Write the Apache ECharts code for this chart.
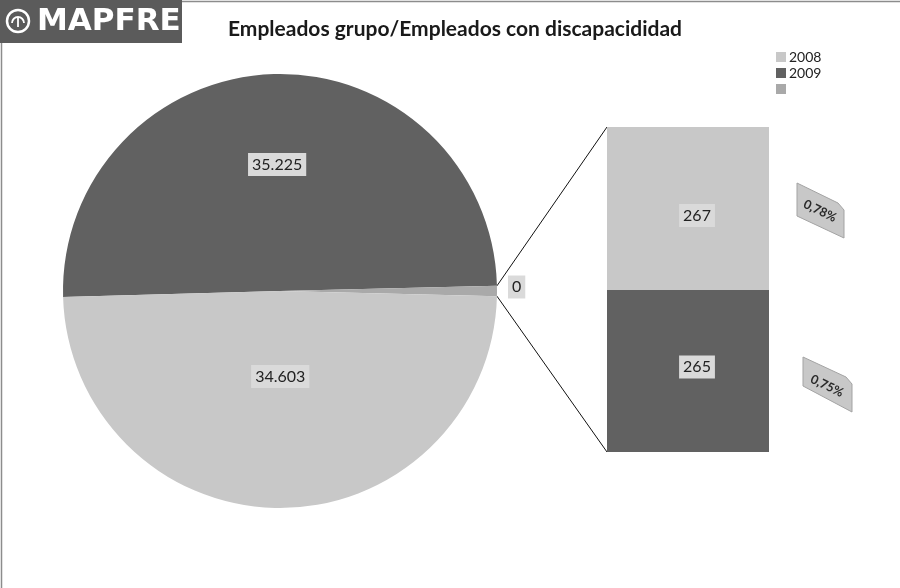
<!DOCTYPE html>
<html>
<head>
<meta charset="utf-8">
<script src="https://cdn.jsdelivr.net/npm/echarts@6/dist/echarts.min.js"></script>
<style>
  html, body { margin: 0; padding: 0; background: #fff; }
  #chart { width: 900px; height: 588px; }
</style>
</head>
<body>
<div id="chart"></div>
<script>
// chart data
const pieNames = [ '2009', ' ', '2008' ]
const mainValues = [ 35225, 34603 ]          // 2009, 2008
const barNames = [ '2008', '2009' ]
const barValues = [ 267, 265 ]               // top, bottom of the stacked bar
const barShares = [ '0,78%', '0,75%' ]
const otherLabel = '0'

const colors = {
  light : '#c8c8c8',
  dark : '#616161',
  other : '#a9a9a9',
  box : '#dadada'
}

const otherValue = barValues[0] + barValues[1]
const total = mainValues[0] + mainValues[1] + otherValue
// start so the small slice sits centred at 3 o'clock
const startAngle = ( mainValues[0] + otherValue / 2 ) / total * 360

const pieCenter = [ 280, 291 ]
const pieRadius = 217
const barGrid = { left : 607, top : 127, width : 162, height : 325 }

const boxLabel = {
  color : '#222',
  fontFamily : 'Lato',
  fontSize : 16,
  backgroundColor : colors.box,
  padding : [ 4, 4, 3, 4 ]
}

const chart = echarts.init( document.getElementById( 'chart' ) )

const calloutShape = ( pts, textPos, text ) => {
  return {
    type : 'group',
    children : [
      {
        type : 'polygon',
        shape : { points : pts },
        style : { fill : colors.light, stroke : '#a3a3a3', lineWidth : 1 }
      },
      {
        type : 'text',
        x : textPos[0],
        y : textPos[1],
        rotation : -0.45,
        style : {
          text : text,
          fill : '#2a2a2a',
          font : 'bold 12.5px Lato',
          align : 'center',
          verticalAlign : 'middle'
        }
      }
    ]
  }
}

chart.setOption( {
  animation : false,
  title : {
    text : 'Empleados grupo/Empleados con discapacididad',
    left : 450,
    top : 14,
    textAlign : 'center',
    textStyle : {
      fontFamily : 'Lato',
      fontSize : 21,
      fontWeight : 'bold',
      color : '#1a1a1a'
    }
  },
  legend : {
    data : [ '2008', '2009', ' ' ],
    orient : 'vertical',
    left : 776,
    top : 50,
    padding : 0,
    itemWidth : 10,
    itemHeight : 10,
    itemGap : 2,
    icon : 'rect',
    selectedMode : false,
    textStyle : { fontFamily : 'Lato', fontSize : 14, color : '#222', padding : [ 0, 0, 0, -2 ] }
  },
  grid : Object.assign( { containLabel : false }, barGrid ),
  xAxis : { type : 'category', data : [ 'otros' ], show : false },
  yAxis : { type : 'value', min : 0, max : otherValue, show : false },
  series : [
    {
      type : 'pie',
      center : pieCenter,
      radius : pieRadius,
      startAngle : startAngle,
      clockwise : true,
      avoidLabelOverlap : false,
      emphasis : { disabled : true },
      label : Object.assign( { show : true, position : 'inside' }, boxLabel ),
      labelLine : { show : false },
      labelLayout : params => {
        if ( params.dataIndex === 1 ) {
          return { dy : -2 }
        }
        return { dy : params.dataIndex === 0 ? -7.5 : -13 }
      },
      data : [
        {
          name : pieNames[0],
          value : mainValues[0],
          itemStyle : { color : colors.dark }
        },
        {
          name : pieNames[1],
          value : otherValue,
          itemStyle : { color : colors.other },
          label : { position : 'outside', formatter : otherLabel },
          labelLine : { show : false, length : 3, length2 : 3 }
        },
        {
          name : pieNames[2],
          value : mainValues[1],
          itemStyle : { color : colors.light }
        }
      ].map( d => {
        if ( !d.label ) {
          d.label = { formatter : p => p.value.toLocaleString( 'de-DE' ) }
        }
        return d
      } )
    },
    {
      name : 'bar ' + barNames[1],
      type : 'bar',
      stack : 'otros',
      barWidth : '100%',
      itemStyle : { color : colors.dark },
      label : Object.assign( { show : true, position : 'inside', offset : [ 9, -4 ] }, boxLabel ),
      data : [ barValues[1] ]
    },
    {
      name : 'bar ' + barNames[0],
      type : 'bar',
      stack : 'otros',
      barWidth : '100%',
      itemStyle : { color : colors.light },
      label : Object.assign( { show : true, position : 'inside', offset : [ 9, 7 ] }, boxLabel ),
      data : [ barValues[0] ]
    }
  ]
} )

// connectors from the small slice to the stacked bar, plus logo, frame and callouts
const drawExtras = () => {
  const half = otherValue / total * 180
  const a1 = ( startAngle - mainValues[0] / total * 360 ) * Math.PI / 180
  const a2 = a1 - half * 2 * Math.PI / 180
  const p1 = [ pieCenter[0] + pieRadius * Math.cos( a1 ), pieCenter[1] - pieRadius * Math.sin( a1 ) ]
  const p2 = [ pieCenter[0] + pieRadius * Math.cos( a2 ), pieCenter[1] - pieRadius * Math.sin( a2 ) ]
  const yTop = chart.convertToPixel( { yAxisIndex : 0 }, otherValue )
  const yBottom = chart.convertToPixel( { yAxisIndex : 0 }, 0 )
  const xLeft = barGrid.left

  chart.setOption( {
    graphic : [
      {
        type : 'line',
        shape : { x1 : p1[0], y1 : p1[1], x2 : xLeft, y2 : yTop },
        style : { stroke : '#111', lineWidth : 1 }
      },
      {
        type : 'line',
        shape : { x1 : p2[0], y1 : p2[1], x2 : xLeft, y2 : yBottom },
        style : { stroke : '#111', lineWidth : 1 }
      },
      // frame
      {
        type : 'line',
        shape : { x1 : 182, y1 : 1.5, x2 : 900, y2 : 1.5 },
        style : { stroke : '#8c8c8c', lineWidth : 1.5 }
      },
      {
        type : 'line',
        shape : { x1 : 1.5, y1 : 43, x2 : 1.5, y2 : 588 },
        style : { stroke : '#8c8c8c', lineWidth : 1.5 }
      },
      // logo
      {
        type : 'rect',
        shape : { x : 0, y : 0, width : 182, height : 43 },
        style : { fill : '#5b5b5b' }
      },
      {
        type : 'circle',
        shape : { cx : 18, cy : 21, r : 11 },
        style : { fill : 'none', stroke : '#fff', lineWidth : 2.5 }
      },
      {
        type : 'arc',
        shape : { cx : 18, cy : 23, r : 6, startAngle : Math.PI, endAngle : 0 },
        style : { fill : 'none', stroke : '#fff', lineWidth : 1.8 }
      },
      {
        type : 'line',
        shape : { x1 : 18, y1 : 17, x2 : 18, y2 : 27 },
        style : { stroke : '#fff', lineWidth : 1.8 }
      },
      {
        type : 'text',
        x : 37,
        y : 22,
        style : {
          text : 'MAPFRE',
          fill : '#fff',
          font : 'bold 31px "DejaVu Sans"',
          verticalAlign : 'middle'
        }
      },
      calloutShape( [ [ 797, 183 ], [ 838, 203 ], [ 844, 210 ], [ 844, 238 ], [ 797, 216 ] ], [ 820, 211 ], barShares[0] ),
      calloutShape( [ [ 803, 357 ], [ 846, 377 ], [ 852, 384 ], [ 852, 412 ], [ 803, 386 ] ], [ 827, 386 ], barShares[1] )
    ]
  } )
}

drawExtras()
</script>
</body>
</html>
